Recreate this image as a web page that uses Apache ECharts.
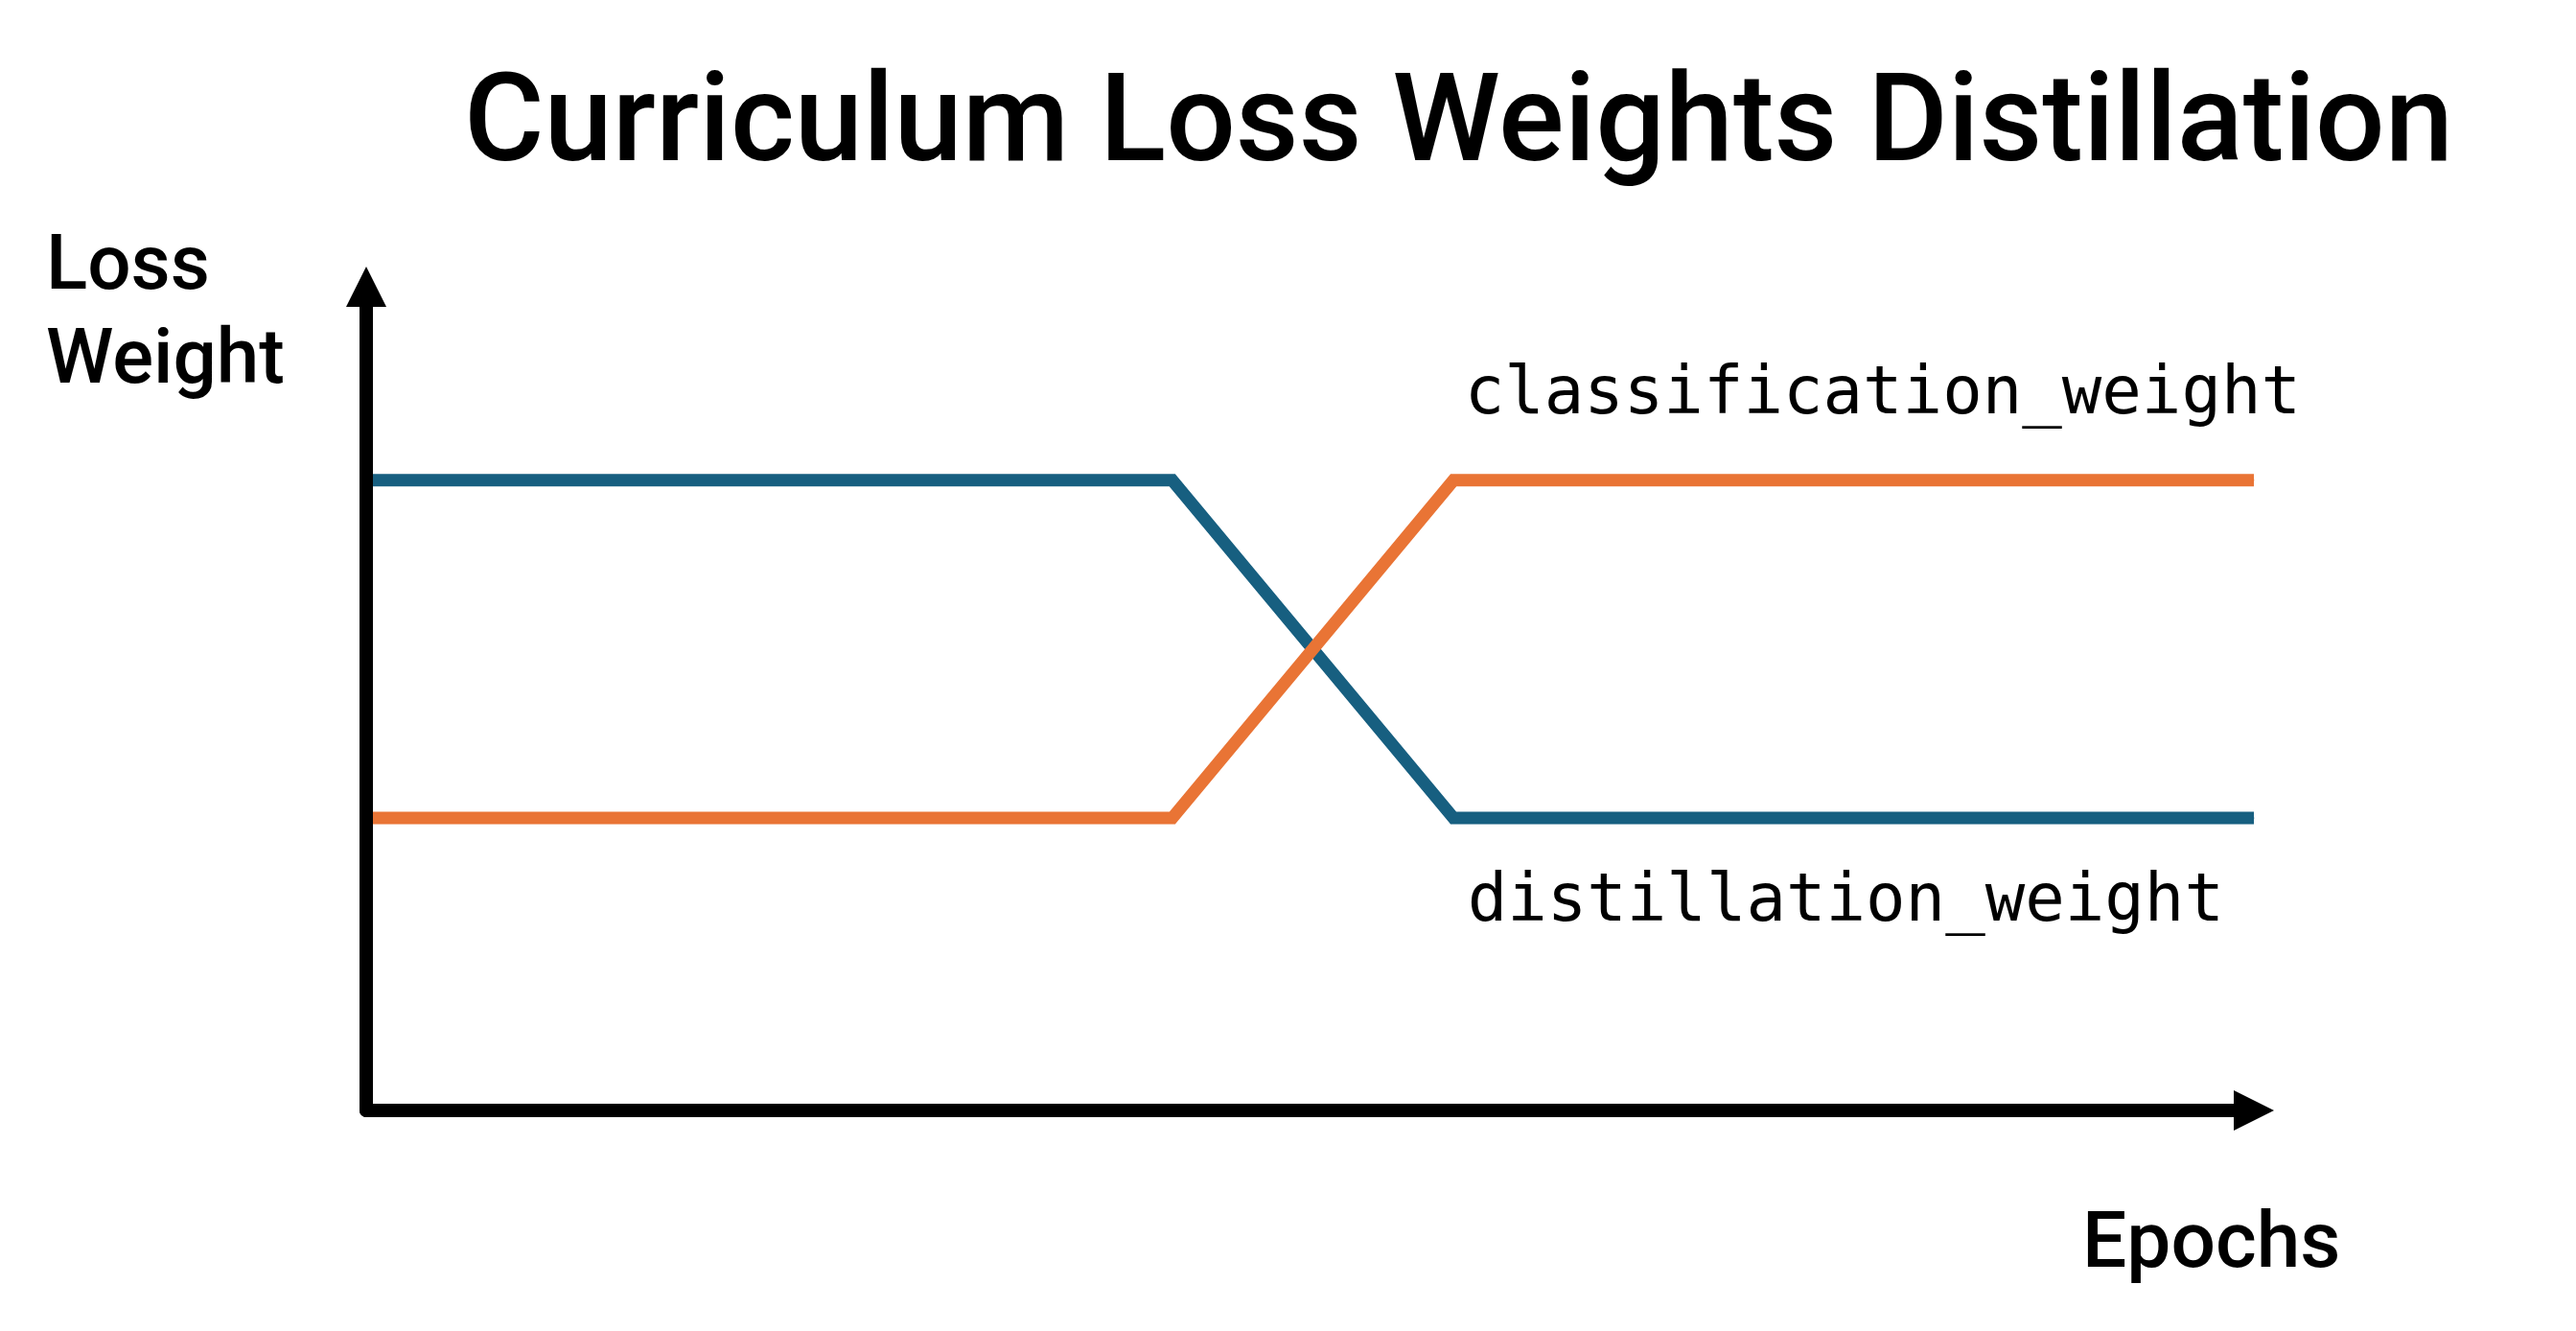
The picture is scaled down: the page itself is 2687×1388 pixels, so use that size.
<!DOCTYPE html>
<html>
<head>
<meta charset="utf-8">
<script src="https://cdn.jsdelivr.net/npm/echarts@6/dist/echarts.min.js"></script>
<style>
  html, body { margin: 0; padding: 0; background: #ffffff; }
  #chart { width: 2687px; height: 1388px; }
</style>
</head>
<body>
<div id="chart"></div>
<script>
// ---- data ----
const chartTitle = 'Curriculum Loss Weights Distillation';
const yAxisTitle = 'Loss\nWeight';
const xAxisTitle = 'Epochs';
const seriesNames = ['distillation_weight', 'classification_weight'];
const epochs = [0, 42.7, 57.6, 100];
const distillationWeight = [0.765, 0.765, 0.355, 0.355];
const classificationWeight = [0.355, 0.355, 0.765, 0.765];
const labelPointIndex = 2;

// ---- styles ----
const BLUE = '#175F80';
const ORANGE = '#E97435';
const DIN = 'Roboto, "Liberation Sans", sans-serif';
const MONO = '"DejaVu Sans Mono", "Liberation Mono", monospace';

function buildData(values, labelOpt) {
  return epochs.map((x, i) => {
    if (i === labelPointIndex) {
      return { value: [x, values[i]], label: labelOpt };
    }
    return [x, values[i]];
  });
}

function lineLabel(dx, dy) {
  return {
    show: true,
    position: 'right',
    distance: 0,
    offset: [dx, dy],
    formatter: (p) => p.seriesName,
    color: '#000',
    fontFamily: MONO,
    fontSize: 69,
    fontWeight: 'normal'
  };
}

const axisCommon = {
  type: 'value',
  z: 5,
  axisLine: {
    show: true,
    onZero: false,
    symbol: ['none', 'triangle'],
    symbolSize: [42, 42],
    lineStyle: { color: '#000', width: 14 }
  },
  axisTick: { show: false },
  axisLabel: { show: false },
  splitLine: { show: false }
};

const chart = echarts.init(document.getElementById('chart'), null, { renderer: 'canvas' });
chart.setOption({
  backgroundColor: '#ffffff',
  animation: false,
  title: [
    {
      text: chartTitle,
      left: 484, top: 71, padding: 0,
      textStyle: { fontFamily: DIN, fontSize: 128, fontWeight: 500, color: '#000' }
    },
    {
      text: yAxisTitle,
      left: 48, top: 232, padding: 0,
      textStyle: { fontFamily: DIN, fontSize: 80, fontWeight: 500, color: '#000', lineHeight: 98 }
    },
    {
      text: xAxisTitle,
      left: 2172, top: 1250, padding: 0,
      textStyle: { fontFamily: DIN, fontSize: 82, fontWeight: 500, color: '#000', lineHeight: 100 }
    }
  ],
  grid: { left: 382, right: 336, top: 299, bottom: 230, containLabel: false },
  xAxis: Object.assign({}, axisCommon, { min: 0, max: 100 }),
  yAxis: Object.assign({}, axisCommon, { min: 0, max: 1 }),
  series: [
    {
      name: seriesNames[0],
      type: 'line',
      data: buildData(distillationWeight, lineLabel(14, 89)),
      symbol: 'circle',
      symbolSize: 1,
      showSymbol: true,
      itemStyle: { color: BLUE },
      lineStyle: { color: BLUE, width: 13, join: 'miter', cap: 'butt' },
      z: 2
    },
    {
      name: seriesNames[1],
      type: 'line',
      data: buildData(classificationWeight, lineLabel(11, -88)),
      symbol: 'circle',
      symbolSize: 1,
      showSymbol: true,
      itemStyle: { color: ORANGE },
      lineStyle: { color: ORANGE, width: 13, join: 'miter', cap: 'butt' },
      z: 3
    }
  ]
});
</script>
</body>
</html>
